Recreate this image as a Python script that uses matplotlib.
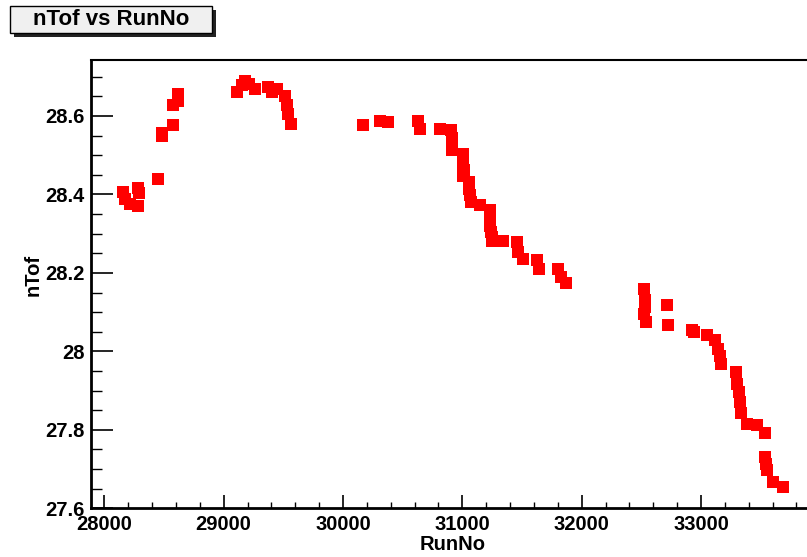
import matplotlib
matplotlib.use("Agg")
import matplotlib.pyplot as plt
from matplotlib.patches import Rectangle
from matplotlib.ticker import MultipleLocator

plt.rcParams['font.family'] = ['Liberation Sans', 'DejaVu Sans']
plt.rcParams['font.weight'] = 'bold'

# Run numbers and measured nTof values
run_no = [
    28159, 28173, 28216, 28285, 28293, 28285,
    28447, 28486, 28486, 28573, 28578, 28615, 28620,
    29109, 29151, 29179, 29215, 29263, 29374, 29403, 29445,
    29514, 29528, 29542, 29564,
    30170, 30310, 30380, 30631, 30645, 30813,
    30905, 30916, 30916, 30916,
    31003, 31003, 31003, 31003, 31014,
    31059, 31059, 31064, 31070, 31148,
    31232, 31232, 31235, 31238, 31245, 31251,
    31338, 31456, 31469, 31506, 31628, 31643,
    31804, 31824, 31866,
    32522, 32531, 32528, 32525, 32539, 32718, 32726,
    32922, 32940, 33048, 33117, 33145, 33158, 33165,
    33293, 33304, 33321, 33327, 33333, 33383, 33467, 33536,
    33536, 33545, 33550, 33601, 33685,
]
ntof = [
    28.406, 28.389, 28.375, 28.417, 28.403, 28.370,
    28.439, 28.557, 28.548, 28.578, 28.627, 28.639, 28.657,
    28.661, 28.678, 28.690, 28.682, 28.669, 28.673, 28.661, 28.669,
    28.652, 28.627, 28.606, 28.580,
    28.578, 28.587, 28.584, 28.586, 28.567, 28.566,
    28.563, 28.545, 28.530, 28.514,
    28.504, 28.485, 28.466, 28.448, 28.461,
    28.431, 28.413, 28.398, 28.380, 28.374,
    28.360, 28.340, 28.320, 28.305, 28.292, 28.281,
    28.281, 28.279, 28.253, 28.236, 28.232, 28.211,
    28.211, 28.190, 28.173,
    28.160, 28.130, 28.113, 28.096, 28.075, 28.118, 28.067,
    28.054, 28.050, 28.041, 28.028, 28.007, 27.988, 27.969,
    27.948, 27.918, 27.897, 27.870, 27.842, 27.816, 27.812, 27.791,
    27.731, 27.712, 27.698, 27.668, 27.655,
]

W, H = 807, 557
fig = plt.figure(figsize=(W / 100, H / 100), dpi=100)
fig.patch.set_facecolor('white')

# frame: left 91px, top 60px, bottom 508px, runs past the right edge
ax_left, ax_top, ax_bottom, ax_right = 91, 60, 508.3, 815
ax = fig.add_axes([ax_left / W, (H - ax_bottom) / H,
                   (ax_right - ax_left) / W, (ax_bottom - ax_top) / H])

ax.plot(run_no, ntof, linestyle='none', marker='s', markersize=8.0,
        color='#ff0000', markeredgewidth=0)

ax.set_xlim(27888.6, 27888.6 + (ax_right - ax_left) / 0.11934)
ax.set_ylim(27.6, 28.7426)

ax.xaxis.set_major_locator(MultipleLocator(1000))
ax.xaxis.set_minor_locator(MultipleLocator(200))
ax.yaxis.set_major_locator(MultipleLocator(0.2))
ax.yaxis.set_minor_locator(MultipleLocator(0.05))


def fmt_y(v, pos):
    s = f"{v:.1f}"
    return s[:-2] if s.endswith('.0') else s


ax.yaxis.set_major_formatter(plt.FuncFormatter(fmt_y))

ax.tick_params(axis='x', which='major', direction='in', length=12.7 * 0.72,
               width=1.2, labelsize=14.5, pad=4.5, top=False)
ax.tick_params(axis='x', which='minor', direction='in', length=6 * 0.72,
               width=1.0, top=False)
ax.tick_params(axis='y', which='major', direction='in', length=21.7 * 0.72,
               width=1.2, labelsize=14.5, pad=4.5, right=False)
ax.tick_params(axis='y', which='minor', direction='in', length=10.7 * 0.72,
               width=1.0, right=False)
for lab in ax.get_xticklabels() + ax.get_yticklabels():
    lab.set_fontweight('bold')

for side in ('left', 'bottom'):
    ax.spines[side].set_linewidth(2.0)
ax.spines['top'].set_linewidth(1.5)
ax.spines['right'].set_visible(False)

# axis titles
fig.text(453 / W, 1 - 544 / H, 'RunNo', ha='center', va='center',
         fontsize=14.5, fontweight='bold')
fig.text(33 / W, 1 - 275 / H, 'nTof', ha='center', va='center',
         rotation=90, fontsize=14.5, fontweight='bold')

# title box with drop shadow
bx0, by0, bx1, by1 = 9.5, 6, 212, 33
fig.patches.append(Rectangle((bx0 + 4, H - by1 - 4), bx1 - bx0, by1 - by0,
                             transform=None, facecolor='#222222',
                             edgecolor='none', zorder=1))
fig.patches.append(Rectangle((bx0, H - by1), bx1 - bx0, by1 - by0,
                             transform=None, facecolor='#f0f0f0',
                             edgecolor='black', linewidth=1.0, zorder=2))
fig.text((bx0 + bx1) / 2 / W, 1 - (by0 + by1) / 2 / H, 'nTof vs RunNo',
         ha='center', va='center', fontsize=16, fontweight='bold', zorder=3)

fig.savefig('out.png', dpi=100)
